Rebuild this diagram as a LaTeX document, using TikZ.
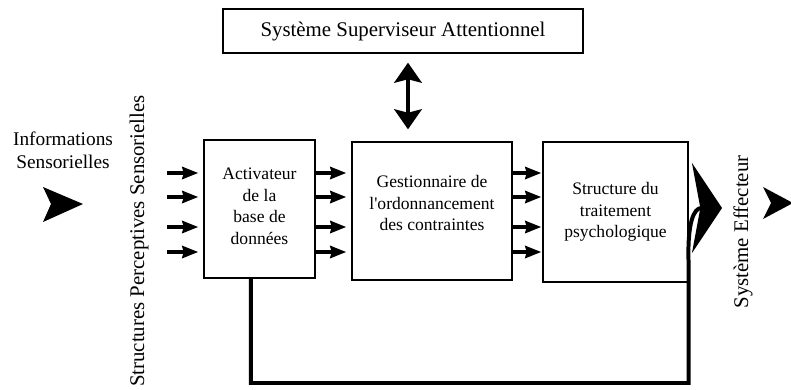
\documentclass[tikz,border=0pt]{standalone}
\usepackage{fontspec}
\setmainfont{Liberation Serif}[Ligatures=TeXOff]
\usetikzlibrary{arrows.meta}
\tikzset{
	bloc/.style={draw=black, line width=1.1pt, inner sep=0pt, align=center, font=\fontsize{15}{18.3}\selectfont},
	label/.style={align=center, inner sep=0pt, font=\fontsize{17.8}{20}\selectfont},
	fleche/.style={line width=3.2pt, -{Stealth[length=0.48cm, width=0.36cm, inset=0.04cm]}},
	biarrow/.style={line width=3.6pt, {Stealth[length=0.6cm, width=0.82cm, inset=0.1cm]}-{Stealth[length=0.6cm, width=0.82cm, inset=0.1cm]}},
	retour/.style={line width=3.4pt, -{Stealth[length=0.9cm, width=2.7cm, inset=0.25cm]}}
}
\begin{document}
\begin{tikzpicture}[x=0.03cm, y=-0.03cm]
	\useasboundingbox (0,0) rectangle (791,389);
	\node[bloc, minimum width=10.8cm, minimum height=1.32cm, font=\fontsize{17.8}{20}\selectfont] (sas) at (403,31) {Système Superviseur Attentionnel};
	\node[bloc, minimum width=3.33cm, minimum height=4.14cm] (b1) at (259.5,209) {\\[-0.45cm]Activateur\\de la\\base de\\données};
	\node[bloc, minimum width=4.8cm, minimum height=4.14cm] (b2) at (432,211) {Gestionnaire de\\l'ordonnancement\\des contraintes\\[-0.165cm]};
	\node[bloc, minimum width=4.35cm, minimum height=4.2cm] (b3) at (615.5,212) {Structure du\\traitement\\psychologique};
	\node[label, font=\fontsize{16.5}{19.6}\selectfont] (info) at (63,150) {Informations\\Sensorielles};
	\node[label, rotate=90] (sps) at (139,241) {Structures Perceptives Sensorielles};
	\node[label, rotate=90] (eff) at (743,232) {Système Effecteur};
	\coordinate (ssp) at (167,0);
	\coordinate (sasx) at ([xshift=0.15cm]sas.south);
	\coordinate (fb) at ([xshift=-0.26cm]b1.south);
	\foreach \y in {173,197,227,252} {
		\draw[fleche, shorten >=0.15cm] (ssp |- 0,\y) -- (b1.west |- 0,\y);
		\draw[fleche, shorten >=0.15cm] (b1.east |- 0,\y) -- (b2.west |- 0,\y);
		\draw[fleche, shorten >=0.03cm] (b2.east |- 0,\y) -- (b3.west |- 0,\y);
	}
	\draw[biarrow, shorten <=0.27cm, shorten >=0.36cm] (sasx) -- (sasx |- b2.north);
	\draw[retour] (fb) |- (b3.east |- 0,383) -- (b3.east |- 0,265) .. controls (687,222) and (694,208) .. (722,208);
	\fill (43,187) -- (83,204) -- (43,222) -- (51,204) -- cycle;
	\fill (763,187) -- (793,203) -- (763,219) -- (771,203) -- cycle;
\end{tikzpicture}
\end{document}
